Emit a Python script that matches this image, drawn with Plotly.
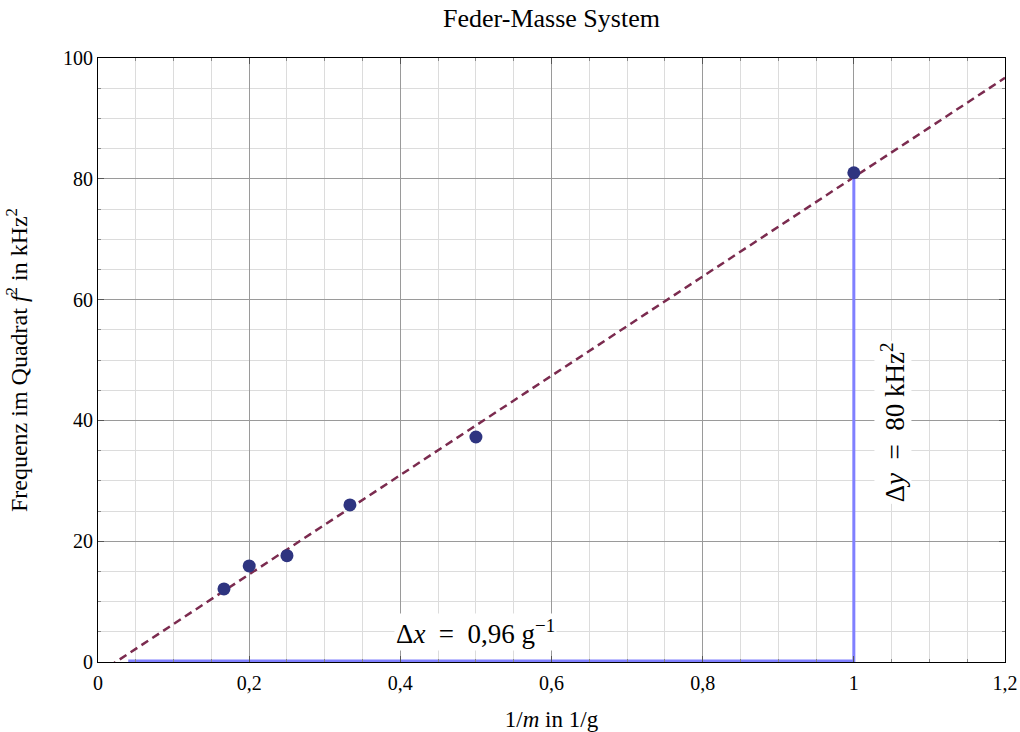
import plotly.graph_objects as go

# data
inv_mass = [1/6, 0.2, 0.25, 1/3, 0.5, 1.0]
freq_sq = [12.1, 15.9, 17.6, 26.0, 37.25, 81.0]
fit_slope = 82.2
fit_intercept = -1.93
fit_x = [0.0, 1.2]
dx_line_x = [0.04, 1.0]
dx_line_y = [0, 0]
dy_line_x = [1.0, 1.0]
dy_line_y = [0, 80]
x_ticks = [0, 0.2, 0.4, 0.6, 0.8, 1.0, 1.2]
y_ticks = [0, 20, 40, 60, 80, 100]

fit_y = [fit_slope * x + fit_intercept for x in fit_x]

font = "Liberation Serif, DejaVu Serif, serif"
sp = "\u2002"

fig = go.Figure()
fig.add_trace(go.Scatter(x=fit_x, y=fit_y, mode="lines",
                         line=dict(color="#7b2b4f", width=2.5, dash="8px,5px"),
                         showlegend=False, hoverinfo="skip"))
fig.add_trace(go.Scatter(x=dx_line_x, y=dx_line_y, mode="lines",
                         line=dict(color="#8080ff", width=5), showlegend=False))
fig.add_trace(go.Scatter(x=dy_line_x, y=dy_line_y, mode="lines",
                         line=dict(color="#8080ff", width=3), showlegend=False))
fig.add_trace(go.Scatter(x=inv_mass, y=freq_sq, mode="markers",
                         marker=dict(color="#2e3480", size=13),
                         showlegend=False))

fig.add_annotation(x=0.5, y=5, text=f"Δ<i>x</i>{sp}={sp}0,96 g<sup>−1</sup>",
                   showarrow=False, font=dict(family=font, size=27, color="black"),
                   bgcolor="white")
fig.add_annotation(x=1.052, y=39.7, text=f"Δ<i>y</i>{sp}={sp}80 kHz<sup>2</sup>",
                   showarrow=False, textangle=-90,
                   font=dict(family=font, size=27, color="black"),
                   bgcolor="white")

axis_common = dict(showline=True, linecolor="black", linewidth=1, mirror="allticks",
                   ticks="inside", ticklen=6, tickcolor="#555555",
                   showgrid=True, gridcolor="#9a9a9a", gridwidth=0.7,
                   zeroline=False, automargin=False,
                   tickfont=dict(family=font, size=20, color="black"))

fig.update_xaxes(range=[0, 1.2], tickvals=x_ticks, **axis_common, ticklabelstandoff=3,
                 minor=dict(dtick=0.05, showgrid=True, gridcolor="#dcdcdc", gridwidth=0.7,
                            ticks="inside", ticklen=3, tickcolor="#888888"),
                 title=dict(text="1/<i>m</i> in 1/g", font=dict(family=font, size=23, color="black"),
                            standoff=20))
fig.update_yaxes(range=[0, 100], tickvals=y_ticks, **axis_common,
                 minor=dict(dtick=5, showgrid=True, gridcolor="#dcdcdc", gridwidth=0.7,
                            ticks="inside", ticklen=3, tickcolor="#888888"),
                 title=dict(text="Frequenz im Quadrat <i>f</i><sup>2</sup> in kHz<sup>2</sup>",
                            font=dict(family=font, size=24, color="black"), standoff=28))

fig.update_layout(width=1020, height=732,
                  margin=dict(l=98, r=15, t=58, b=70),
                  plot_bgcolor="white", paper_bgcolor="white",
                  separators=",.",
                  title=dict(text="Feder-Masse System", x=0.5, xanchor="center", xref="paper",
                             y=0.975, yanchor="middle", automargin=False,
                             font=dict(family=font, size=26, color="black")))

fig.write_html("out.html", config={"displayModeBar": False},
               post_script="document.body.style.margin='0';")
